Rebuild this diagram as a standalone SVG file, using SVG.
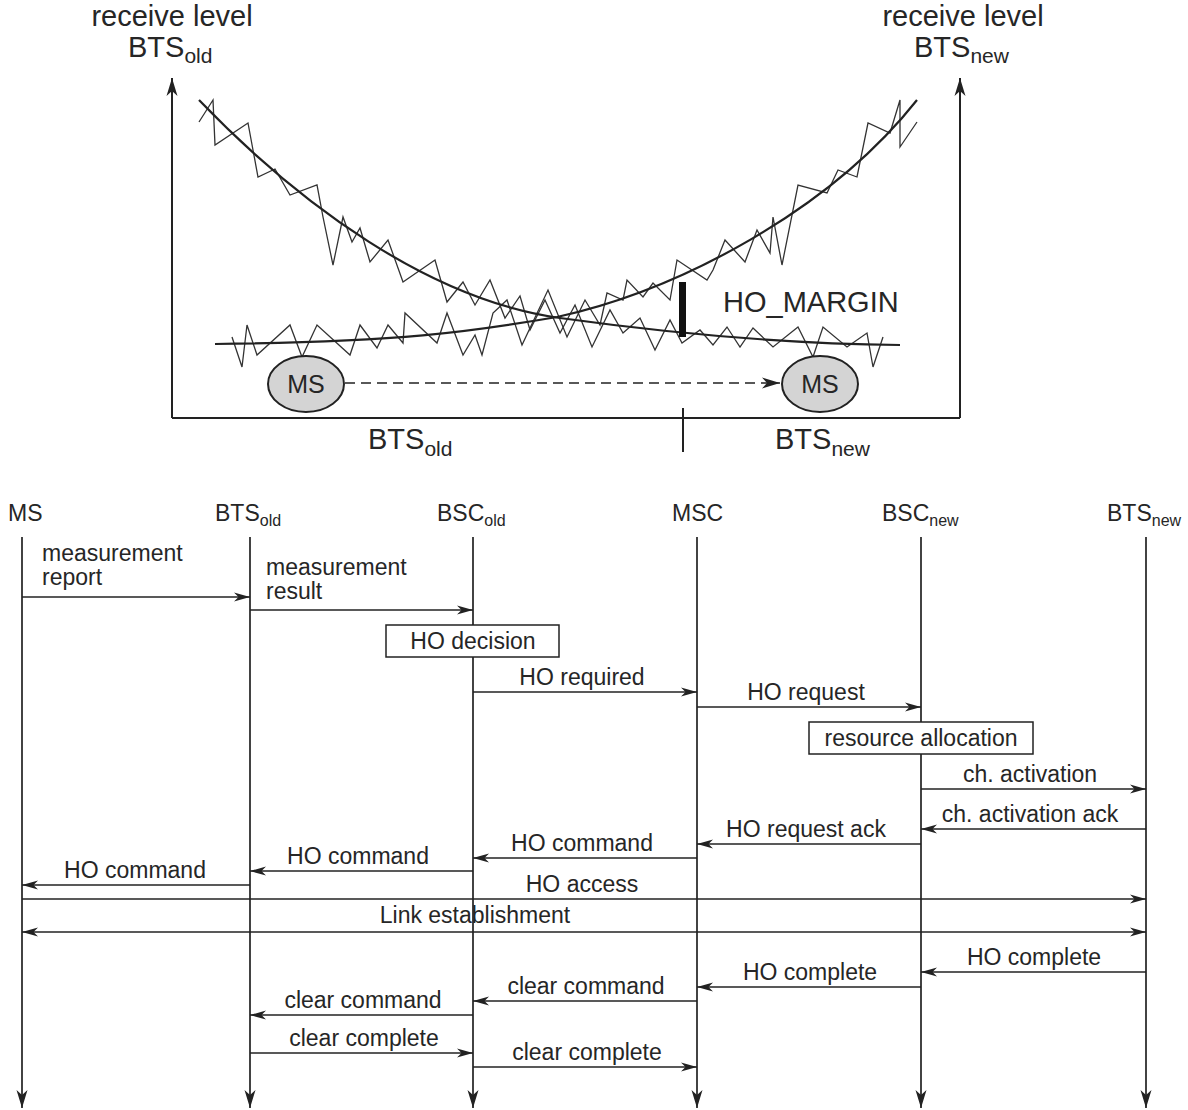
<svg xmlns="http://www.w3.org/2000/svg" width="1188" height="1110" viewBox="0 0 1188 1110">
<defs>
<marker id="ah" viewBox="0 0 16 10" refX="16" refY="5" markerWidth="16" markerHeight="10" markerUnits="userSpaceOnUse" orient="auto-start-reverse"><path d="M0,0.5 L16,5 L0,9.5 L4.5,5 z" fill="#222"/></marker>
<marker id="ahBig" viewBox="0 0 18 12" refX="18" refY="6" markerWidth="18" markerHeight="12" markerUnits="userSpaceOnUse" orient="auto-start-reverse"><path d="M0,0.5 L18,6 L0,11.5 L5,6 z" fill="#222"/></marker>
</defs>
<style>
text{font-family:"Liberation Sans",Arial,sans-serif;fill:#262626}
.lbl{font-size:23px}
.sub{font-size:16px}
.big{font-size:29px}
.bigsub{font-size:21px}
.mid{text-anchor:middle}
.axis{fill:none;stroke:#222;stroke-width:2}
.life{fill:none;stroke:#222;stroke-width:1.7}
.msg{fill:none;stroke:#222;stroke-width:1.7;marker-end:url(#ah)}
.box{fill:#fff;stroke:#222;stroke-width:1.5}
.noise{fill:none;stroke:#333;stroke-width:1.3;stroke-linejoin:miter}
.curve{fill:none;stroke:#222;stroke-width:2.2}
.ms{fill:#d4d4d4;stroke:#222;stroke-width:2}
</style>
<g id="chart">
<path class="axis" d="M172,418 V78" marker-end="url(#ahBig)"/>
<path class="axis" d="M960,418 V78" marker-end="url(#ahBig)"/>
<path class="axis" d="M172,418 H960"/>
<path class="axis" d="M683,408 V452"/>
<text class="big mid" x="172" y="26">receive level</text>
<text class="big" x="128" y="57">BTS<tspan class="bigsub" dy="6">old</tspan></text>
<text class="big mid" x="963" y="26">receive level</text>
<text class="big" x="914" y="57">BTS<tspan class="bigsub" dy="6">new</tspan></text>
<text class="big" x="368" y="449">BTS<tspan class="bigsub" dy="7">old</tspan></text>
<text class="big" x="775" y="449">BTS<tspan class="bigsub" dy="7">new</tspan></text>
<polyline class="noise" points="199,122 213,100 215,145 248,123 258,177 275,169 290,195 317,185 323,217 333,265 343,217 352,242 360,228 370,262 388,240 403,282 435,260 447,302 463,282 475,305 490,280 505,318 520,296 530,330 545,300 560,333 575,305 592,347 610,310 623,333 640,318 655,350 670,320 682,343 700,330 713,345 727,327 740,347 753,328 773,347 798,327 813,357 823,327 847,347 867,333 873,367 883,337"/>
<polyline class="noise" points="232,337 242,367 247,325 257,355 290,325 302,357 317,325 350,355 360,325 377,348 388,325 403,343 405,313 437,343 447,313 463,355 475,335 482,355 493,313 507,300 522,345 548,290 567,337 585,300 600,325 607,293 623,300 627,280 643,297 653,283 670,300 677,260 707,280 713,270 725,240 745,262 757,230 770,253 773,217 782,265 798,185 827,193 838,170 857,177 868,123 890,133 900,100 900,147 917,122"/>
<path class="curve" d="M199,100 C300,205 430,300 560,318 C690,336 800,344 900,345"/>
<path class="curve" d="M215,344 C400,342 470,332 557,317 C680,290 830,210 917,100"/>
<rect x="679" y="282" width="7" height="55" fill="#111"/>
<text class="big" x="723" y="312">HO_MARGIN</text>
<path d="M345,383 H780" fill="none" stroke="#222" stroke-width="1.6" stroke-dasharray="10,6" marker-end="url(#ahBig)"/>
</g>
<g id="ms-old"><ellipse class="ms" cx="306" cy="384" rx="38" ry="28"/><text class="mid" x="306" y="393" font-size="25">MS</text></g>
<g id="ms-new"><ellipse class="ms" cx="820" cy="384" rx="38" ry="28"/><text class="mid" x="820" y="393" font-size="25">MS</text></g>
<g id="node-ms"><text class="lbl" x="8" y="521">MS</text><path class="life" d="M22,537 V1108" marker-end="url(#ahBig)"/></g>
<g id="node-bts-old"><text class="lbl" x="215" y="521">BTS<tspan class="sub" dy="5">old</tspan></text><path class="life" d="M250,537 V1108" marker-end="url(#ahBig)"/></g>
<g id="node-bsc-old"><text class="lbl" x="437" y="521">BSC<tspan class="sub" dy="5">old</tspan></text><path class="life" d="M473,537 V1108" marker-end="url(#ahBig)"/></g>
<g id="node-msc"><text class="lbl" x="672" y="521">MSC</text><path class="life" d="M697,537 V1108" marker-end="url(#ahBig)"/></g>
<g id="node-bsc-new"><text class="lbl" x="882" y="521">BSC<tspan class="sub" dy="5">new</tspan></text><path class="life" d="M921,537 V1108" marker-end="url(#ahBig)"/></g>
<g id="node-bts-new"><text class="lbl" x="1107" y="521">BTS<tspan class="sub" dy="5">new</tspan></text><path class="life" d="M1146,537 V1108" marker-end="url(#ahBig)"/></g>
<g id="box-ho-decision"><rect class="box" x="386" y="625" width="173" height="32"/><text class="lbl mid" x="473" y="649">HO decision</text></g>
<g id="box-resource-allocation"><rect class="box" x="809" y="722" width="224" height="32"/><text class="lbl mid" x="921" y="746">resource allocation</text></g>
<g id="connectors">
<path class="msg" d="M22,597 H250"/>
<text class="lbl" x="42" y="561">measurement</text><text class="lbl" x="42" y="585">report</text>
<path class="msg" d="M250,610 H473"/>
<text class="lbl" x="266" y="575">measurement</text><text class="lbl" x="266" y="599">result</text>
<path class="msg" d="M473,692 H697"/><text class="lbl mid" x="582" y="685">HO required</text>
<path class="msg" d="M697,707 H921"/><text class="lbl mid" x="806" y="700">HO request</text>
<path class="msg" d="M921,789 H1146"/><text class="lbl mid" x="1030" y="782">ch. activation</text>
<path class="msg" d="M1146,829 H921"/><text class="lbl mid" x="1030" y="822">ch. activation ack</text>
<path class="msg" d="M921,844 H697"/><text class="lbl mid" x="806" y="837">HO request ack</text>
<path class="msg" d="M697,858 H473"/><text class="lbl mid" x="582" y="851">HO command</text>
<path class="msg" d="M473,871 H250"/><text class="lbl mid" x="358" y="864">HO command</text>
<path class="msg" d="M250,885 H22"/><text class="lbl mid" x="135" y="878">HO command</text>
<path class="msg" d="M22,899 H1146"/><text class="lbl mid" x="582" y="892">HO access</text>
<path class="msg" d="M22,932 H1146" marker-start="url(#ah)"/><text class="lbl mid" x="475" y="923">Link establishment</text>
<path class="msg" d="M1146,972 H921"/><text class="lbl mid" x="1034" y="965">HO complete</text>
<path class="msg" d="M921,987 H697"/><text class="lbl mid" x="810" y="980">HO complete</text>
<path class="msg" d="M697,1001 H473"/><text class="lbl mid" x="586" y="994">clear command</text>
<path class="msg" d="M473,1015 H250"/><text class="lbl mid" x="363" y="1008">clear command</text>
<path class="msg" d="M250,1053 H473"/><text class="lbl mid" x="364" y="1046">clear complete</text>
<path class="msg" d="M473,1067 H697"/><text class="lbl mid" x="587" y="1060">clear complete</text>
</g>
</svg>
